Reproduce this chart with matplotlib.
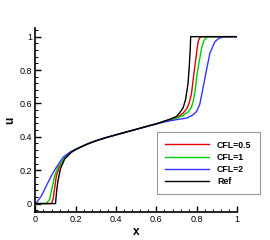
import matplotlib
matplotlib.use("Agg")
import matplotlib.pyplot as plt
from matplotlib.ticker import MultipleLocator

plt.rcParams['font.family'] = ['Liberation Sans', 'DejaVu Sans']

# shared middle part (all solutions coincide here)
x_mid = [0.22, 0.26, 0.30, 0.35, 0.40, 0.50, 0.60]
u_mid = [0.336, 0.358, 0.376, 0.395, 0.412, 0.445, 0.478]

x_ref = [0.0, 0.100, 0.102, 0.106, 0.112, 0.124, 0.145, 0.178, 0.200] + x_mid + [0.667, 0.700, 0.716, 0.733, 0.745, 0.757, 0.763, 0.768, 0.770, 1.0]
u_ref = [0.0, 0.0, 0.03, 0.08, 0.136, 0.207, 0.267, 0.307, 0.323] + u_mid + [0.505, 0.522, 0.545, 0.575, 0.625, 0.72, 0.82, 0.93, 1.0, 1.0]

x_cfl05 = [0.0, 0.079, 0.088, 0.096, 0.104, 0.121, 0.153, 0.19] + x_mid + [0.667, 0.700, 0.716, 0.735, 0.750, 0.762, 0.774, 0.786, 0.796, 0.802, 0.808, 0.815, 0.830, 1.0]
u_cfl05 = [0.0, 0.0, 0.026, 0.096, 0.166, 0.226, 0.287, 0.320] + u_mid + [0.504, 0.516, 0.526, 0.545, 0.568, 0.600, 0.658, 0.779, 0.870, 0.930, 0.975, 0.995, 1.0, 1.0]

x_cfl1 = [0.0, 0.054, 0.071, 0.083, 0.096, 0.112, 0.153, 0.19] + x_mid + [0.667, 0.700, 0.733, 0.760, 0.774, 0.783, 0.791, 0.802, 0.815, 0.824, 0.835, 0.848, 0.870, 1.0]
u_cfl1 = [0.0, 0.0, 0.026, 0.096, 0.166, 0.217, 0.287, 0.322] + u_mid + [0.502, 0.512, 0.528, 0.552, 0.578, 0.615, 0.668, 0.779, 0.870, 0.930, 0.975, 0.995, 1.0, 1.0]

x_cfl2 = [0.0, 0.005, 0.030, 0.054, 0.079, 0.104, 0.137, 0.170] + x_mid + [0.667, 0.700, 0.750, 0.780, 0.800, 0.815, 0.830, 0.845, 0.865, 0.890, 0.910, 0.930, 0.960, 1.0]
u_cfl2 = [0.0, 0.005, 0.046, 0.106, 0.166, 0.217, 0.277, 0.307] + u_mid + [0.496, 0.503, 0.512, 0.530, 0.553, 0.595, 0.685, 0.779, 0.900, 0.970, 0.990, 0.998, 1.0, 1.0]

tick_vals = [0, 0.2, 0.4, 0.6, 0.8, 1.0]
tick_labels = ['0', '0.2', '0.4', '0.6', '0.8', '1']

labels = ['CFL=0.5', 'CFL=1', 'CFL=2', 'Ref']
colors = ['#e00000', '#00cc00', '#3333ff', 'black']

fig = plt.figure(figsize=(2.7, 2.4), dpi=100)
ax = fig.add_axes([0.131, 0.117, 0.747, 0.765])

series = [(x_cfl05, u_cfl05), (x_cfl1, u_cfl1), (x_cfl2, u_cfl2), (x_ref, u_ref)]
for (xs, us), lab, c in zip(series, labels, colors):
    ax.plot(xs, us, color=c, lw=1.0, label=lab)

ax.set_xlim(0, 1)
ax.set_ylim(-0.05, 1.05)
for s in ['top', 'right']:
    ax.spines[s].set_visible(False)
for s in ['left', 'bottom']:
    ax.spines[s].set_linewidth(1.2)

ax.set_xticks(tick_vals)
ax.set_xticklabels(tick_labels)
ax.set_yticks(tick_vals)
ax.set_yticklabels(tick_labels)
ax.xaxis.set_minor_locator(MultipleLocator(0.04))
ax.yaxis.set_minor_locator(MultipleLocator(0.04))
ax.tick_params(which='both', direction='in', labelsize=6.5, pad=2.5)
ax.tick_params(which='major', length=4, width=1)
ax.tick_params(which='minor', length=2, width=0.7)

ax.set_xlabel('x', fontsize=8.5, fontweight='bold', labelpad=1)
ax.set_ylabel('u', fontsize=8.5, fontweight='bold', labelpad=2)

leg = ax.legend(loc='upper left', bbox_to_anchor=(0.580, 0.451), bbox_transform=fig.transFigure,
                prop={'weight': 'bold', 'size': 6.3}, handlelength=5.0, handletextpad=0.9,
                labelspacing=0.35, borderpad=1.0, borderaxespad=0, fancybox=False, framealpha=1)
leg.get_frame().set_edgecolor('#999999')
leg.get_frame().set_linewidth(0.8)

fig.savefig('out.png', dpi=100)
